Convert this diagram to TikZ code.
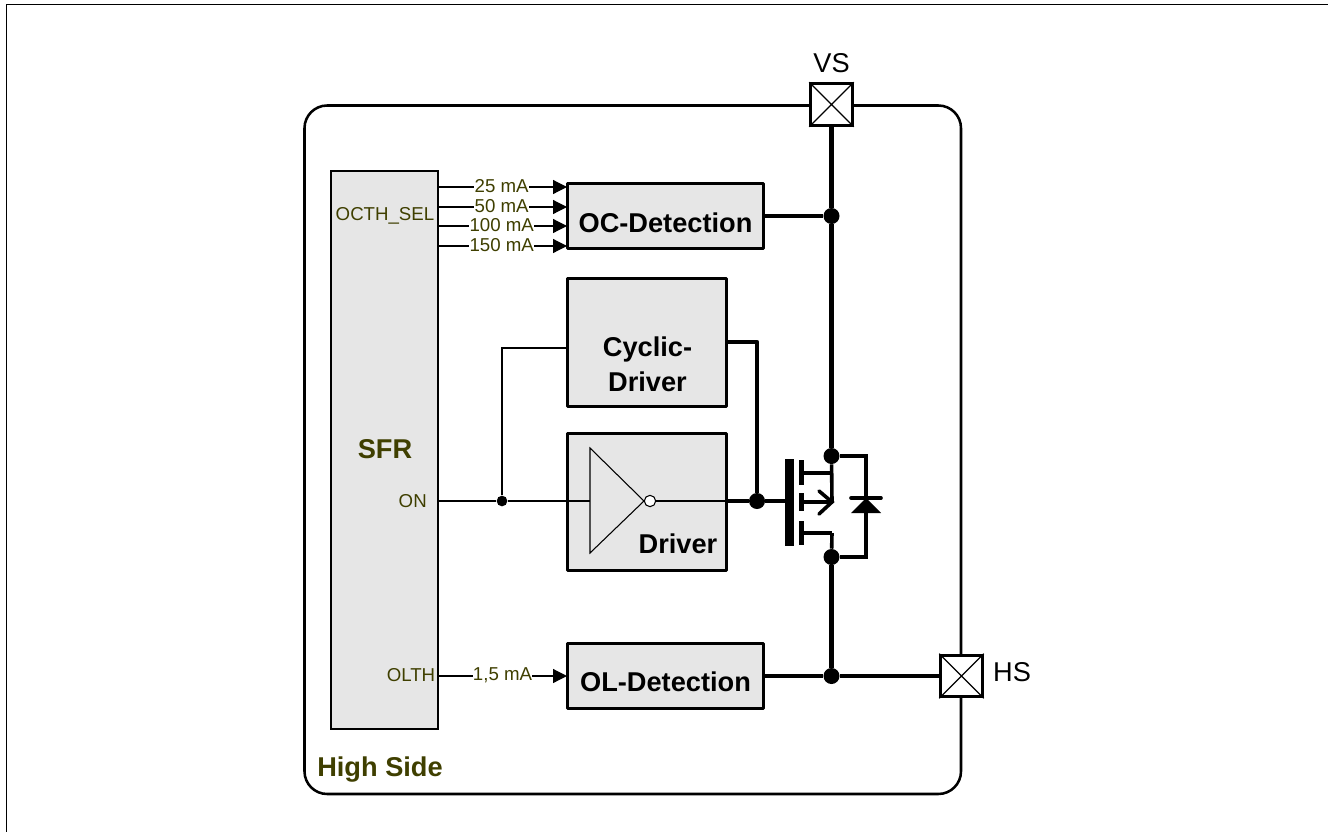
\documentclass[tikz,border=0pt]{standalone}
\usepackage{fontspec}
\setmainfont{Liberation Sans}
\usetikzlibrary{arrows.meta,calc}
\definecolor{olivetext}{HTML}{3F3F00}
\definecolor{boxgrey}{HTML}{E6E6E6}
\tikzset{
  x=0.75pt,y=-0.75pt,
  blockbox/.style={draw=black,line width=2.2pt,fill=boxgrey,inner sep=0pt,line join=round},
  blocktxt/.style={font=\fontsize{20.4}{26}\selectfont\bfseries,align=center,inner sep=0pt},
  sfrbox/.style={draw=black,line width=1.4pt,fill=boxgrey,inner sep=0pt},
  sfrtxt/.style={font=\fontsize{14}{16}\selectfont,text=olivetext,inner sep=0pt},
  curlbl/.style={font=\fontsize{14}{16}\selectfont,text=olivetext,fill=white,inner sep=0.3pt,pos=0.5,yshift=0.7pt},
  thinw/.style={line width=0.8pt},
  sigarrow/.style={line width=0.9pt,-{Triangle[length=10.5pt,width=10.5pt]}},
  power/.style={line width=3.5pt,line join=round},
  dotn/.style={circle,fill=black,inner sep=0pt,minimum size=12pt},
  smalldot/.style={circle,fill=black,inner sep=0pt,minimum size=8pt},
  padbox/.style={draw=black,line width=2.4pt,fill=white,minimum size=31pt,inner sep=0pt},
  padtxt/.style={font=\fontsize{20.4}{24}\selectfont,inner sep=0pt},
  fet/.style={line width=2.7pt},
}
\begin{document}
\begin{tikzpicture}
\useasboundingbox (0,0) rectangle (1328,832);
% page frame
\coordinate (frameA) at (1328,4.5);
\coordinate (frameB) at (6.5,4.5);
\coordinate (frameC) at (6.5,832);
\draw[line width=0.9pt] (frameA) -- (frameB) -- (frameC);
% outer block
\draw[line width=1.9pt,rounded corners=17pt] (304.5,105.5) rectangle (961,794);
% SFR
\node[sfrbox,minimum width=80pt,minimum height=418.5pt] (sfr) at (384.5,450) {};
\node[sfrtxt,font=\fontsize{20.4}{24}\selectfont\bfseries] (sfrname) at (385,449) {SFR};
\node[sfrtxt] (octh) at (385,216) {OCTH\_SEL};
\node[sfrtxt,anchor=east] (on) at (427,501) {ON};
\node[sfrtxt] (olth) at (411,675) {OLTH};
% blocks
\node[blockbox,minimum width=147pt,minimum height=49pt] (oc) at (665.5,216) {};
\node[blockbox,minimum width=119pt,minimum height=96pt] (cyc) at (647,342.5) {};
\node[blockbox,minimum width=119pt,minimum height=103pt] (drv) at (647,502) {};
\node[blockbox,minimum width=147pt,minimum height=49pt] (ol) at (665.5,676) {};
\node[blocktxt] (octxt) at (665.5,223) {OC-Detection};
\node[blocktxt] (cyctxt) at (647.5,364) {Cyclic-\\Driver};
\node[blocktxt] (oltxt) at (665.5,682) {OL-Detection};
\node[blocktxt] (drvtxt) at (678,544) {Driver};
\node[blocktxt,text=olivetext] (hs0) at (380,770) {High Side};
% current arrows
\foreach \n/\yy/\t in {a/187/25 mA,b/207/50 mA,c/226/100 mA,d/246/150 mA}{
  \coordinate (s\n) at (438,\yy);
  \coordinate (e\n) at (567,\yy);
  \draw[sigarrow] (s\n) -- node[curlbl,xshift=-0.6pt] {\t} (e\n);
}
\coordinate (sol) at (438,676);
\coordinate (eol) at (567,676);
\draw[sigarrow] (sol) -- node[curlbl] {1,5 mA} (eol);
% inverter
\coordinate (invA) at (590,448);
\coordinate (invB) at (590,553);
\coordinate (invC) at (644,501);
\draw[line width=0.8pt,fill=boxgrey,line join=miter] (invA) -- (invB) -- (invC) -- cycle;
\node[circle,draw=black,line width=0.8pt,fill=white,inner sep=0pt,minimum size=8.5pt] (bub) at (650,501) {};
% signal
\coordinate (onS) at (438,501);
\coordinate (invIn) at (590,501);
\node[smalldot] (j1) at (502,501) {};
\coordinate (drvR) at (727,501);
\coordinate (cycIn) at (567,348);
\draw[thinw] (onS) -- (j1) -- (invIn);
\draw[thinw] (j1) |- (cycIn);
\draw[thinw] (bub) -- (drvR);
% gate
\node[dotn] (jg) at (757,501) {};
\coordinate (cycO) at (727,342);
\coordinate (gateIn) at (785,501);
\draw[power] (cycO) -| (jg);
\draw[power] (drvR) -- (jg) -- (gateIn);
% MOSFET
\fill (785,459) rectangle (794,546);
\fill (799,460) rectangle (804,485);
\fill (799,493) rectangle (804,511);
\fill (799,521) rectangle (804,545);
% pads
\node[padbox] (vs) at (831.5,104.5) {};
\draw[line width=0.9pt] (vs.north west) -- (vs.south east) (vs.north east) -- (vs.south west);
\node[padbox] (hs) at (961.5,676) {};
\draw[line width=0.9pt] (hs.north west) -- (hs.south east) (hs.north east) -- (hs.south west);
\node[padtxt] (vstxt) at (831.5,63) {VS};
\node[padtxt] (hstxt) at (1012,672) {HS};
% power rail
\node[dotn] (joc) at (831.5,216) {};
\node[dotn] (jt) at (831.5,456) {};
\node[dotn] (jb) at (831.5,557) {};
\node[dotn] (jol) at (831.5,676) {};
\draw[power] (vs.south) -- (joc) -- (jt);
\draw[power] (jb) -- (jol);
\draw[power] (oc.east) -- (joc);
\draw[power] (ol.east) -- (jol) -- (hs.west);
% fet internals
\coordinate (d0) at (803,473);
\coordinate (d1) at (832,473);
\coordinate (s0) at (803,502);
\coordinate (s1) at (832,502);
\coordinate (b0) at (803,533);
\coordinate (b1) at (832,533);
\draw[fet] (d0) -- (d1);
\draw[fet] (s0) -- (s1);
\draw[fet] (b0) -- (b1);
\draw[fet,line cap=round] (819,491) -- (s1) -- (819,514);
\draw[fet] (jt) -- (s1);
\draw[fet] (b1) -- (jb);
% diode
\coordinate (dR) at (866,456);
\coordinate (dB) at (866,557);
\draw[fet,line join=miter] (jt) -- (dR) -- (dB) -- (jb);
\draw[line width=2.7pt,line cap=round] (851,498) -- (881,498);
\fill (866,498) -- (881,513) -- (851,513) -- cycle;
\end{tikzpicture}
\end{document}
